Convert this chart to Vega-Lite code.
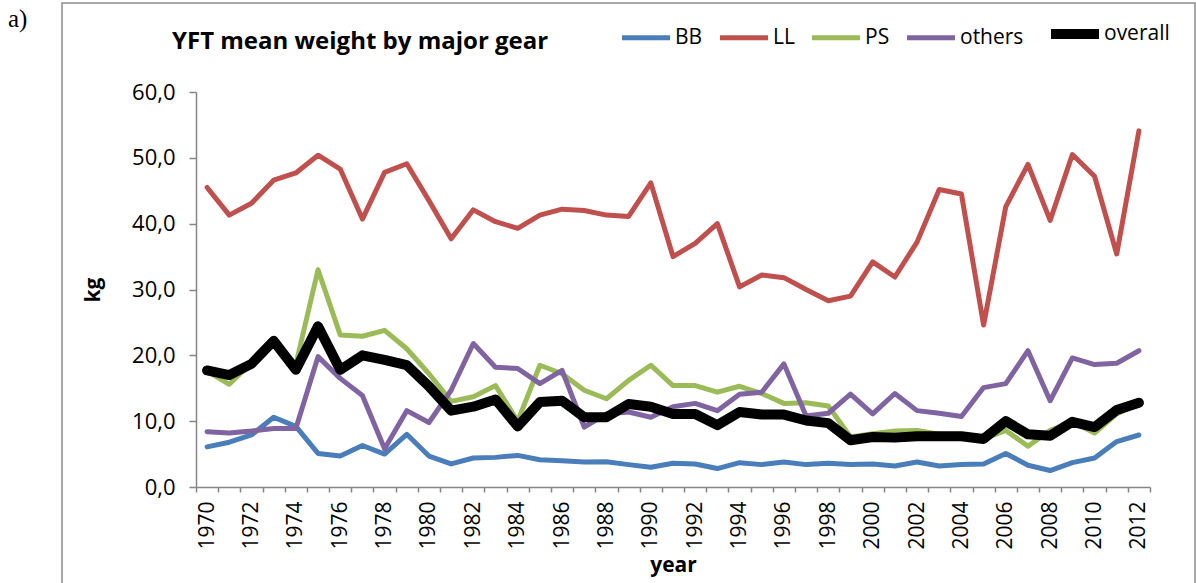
{
  "$schema": "https://vega.github.io/schema/vega-lite/v6.json",
  "width": 1133,
  "height": 582,
  "autosize": {"type": "none"},
  "padding": {"left": 62, "top": 3, "right": 1, "bottom": 0},
  "background": "white",
  "config": {
    "view": {"stroke": "#8c8c8c", "strokeWidth": 1.5},
    "font": "Open Sans",
    "legend": {
      "orient": "none",
      "legendX": 110,
      "legendY": 2,
      "direction": "horizontal",
      "columns": 5,
      "titleOrient": "left",
      "titleAngle": 0,
      "titleFont": "Open Sans",
      "titleFontSize": 24,
      "titleFontWeight": "bold",
      "titleColor": "black",
      "titlePadding": 68,
      "titleLimit": 700,
      "titleBaseline": "top",
      "titleAnchor": "middle",
      "labelFont": "Open Sans",
      "labelFontSize": 21,
      "labelColor": "black",
      "labelOffset": 0,
      "labelLimit": 300,
      "columnPadding": 7,
      "symbolType": "stroke",
      "symbolSize": 2304,
      "padding": 0
    }
  },
  "title": {
    "text": "a)",
    "anchor": "start",
    "frame": "group",
    "dx": -54,
    "offset": -49,
    "font": "Liberation Serif",
    "fontSize": 25,
    "fontWeight": "normal",
    "color": "black",
    "baseline": "alphabetic"
  },
  "data": {
    "values": [
      {"year": 1970, "BB": 6.1, "LL": 45.5, "PS": 17.6, "others": 8.4, "overall": 17.7},
      {"year": 1971, "BB": 6.8, "LL": 41.3, "PS": 15.6, "others": 8.2, "overall": 17.0},
      {"year": 1972, "BB": 7.9, "LL": 43.1, "PS": 18.9, "others": 8.5, "overall": 18.7},
      {"year": 1973, "BB": 10.6, "LL": 46.6, "PS": 22.2, "others": 8.9, "overall": 22.2},
      {"year": 1974, "BB": 9.2, "LL": 47.7, "PS": 18.6, "others": 8.9, "overall": 17.8},
      {"year": 1975, "BB": 5.1, "LL": 50.4, "PS": 33.0, "others": 19.8, "overall": 24.4},
      {"year": 1976, "BB": 4.7, "LL": 48.3, "PS": 23.1, "others": 16.5, "overall": 17.8},
      {"year": 1977, "BB": 6.3, "LL": 40.7, "PS": 22.9, "others": 13.9, "overall": 20.0},
      {"year": 1978, "BB": 5.0, "LL": 47.8, "PS": 23.8, "others": 5.8, "overall": 19.3},
      {"year": 1979, "BB": 8.0, "LL": 49.1, "PS": 21.0, "others": 11.6, "overall": 18.5},
      {"year": 1980, "BB": 4.7, "LL": 43.5, "PS": 17.2, "others": 9.8, "overall": 15.3},
      {"year": 1981, "BB": 3.5, "LL": 37.7, "PS": 13.0, "others": 14.7, "overall": 11.6},
      {"year": 1982, "BB": 4.4, "LL": 42.1, "PS": 13.7, "others": 21.8, "overall": 12.2},
      {"year": 1983, "BB": 4.5, "LL": 40.3, "PS": 15.4, "others": 18.2, "overall": 13.3},
      {"year": 1984, "BB": 4.8, "LL": 39.3, "PS": 10.0, "others": 18.0, "overall": 9.2},
      {"year": 1985, "BB": 4.15, "LL": 41.3, "PS": 18.5, "others": 15.7, "overall": 12.9},
      {"year": 1986, "BB": 4.0, "LL": 42.2, "PS": 17.2, "others": 17.7, "overall": 13.1},
      {"year": 1987, "BB": 3.8, "LL": 42.0, "PS": 14.7, "others": 9.1, "overall": 10.6},
      {"year": 1988, "BB": 3.85, "LL": 41.3, "PS": 13.4, "others": 11.1, "overall": 10.6},
      {"year": 1989, "BB": 3.4, "LL": 41.1, "PS": 16.2, "others": 11.4, "overall": 12.6},
      {"year": 1990, "BB": 3.0, "LL": 46.2, "PS": 18.5, "others": 10.6, "overall": 12.2},
      {"year": 1991, "BB": 3.6, "LL": 35.0, "PS": 15.4, "others": 12.2, "overall": 11.1},
      {"year": 1992, "BB": 3.5, "LL": 37.0, "PS": 15.4, "others": 12.7, "overall": 11.1},
      {"year": 1993, "BB": 2.8, "LL": 40.0, "PS": 14.4, "others": 11.6, "overall": 9.4},
      {"year": 1994, "BB": 3.7, "LL": 30.4, "PS": 15.3, "others": 14.1, "overall": 11.4},
      {"year": 1995, "BB": 3.4, "LL": 32.2, "PS": 14.2, "others": 14.4, "overall": 11.0},
      {"year": 1996, "BB": 3.8, "LL": 31.8, "PS": 12.7, "others": 18.7, "overall": 11.0},
      {"year": 1997, "BB": 3.4, "LL": 30.0, "PS": 12.8, "others": 10.8, "overall": 10.1},
      {"year": 1998, "BB": 3.6, "LL": 28.3, "PS": 12.3, "others": 11.2, "overall": 9.7},
      {"year": 1999, "BB": 3.4, "LL": 29.0, "PS": 7.6, "others": 14.1, "overall": 7.1},
      {"year": 2000, "BB": 3.5, "LL": 34.2, "PS": 8.1, "others": 11.1, "overall": 7.6},
      {"year": 2001, "BB": 3.2, "LL": 31.9, "PS": 8.5, "others": 14.2, "overall": 7.5},
      {"year": 2002, "BB": 3.8, "LL": 37.2, "PS": 8.6, "others": 11.6, "overall": 7.7},
      {"year": 2003, "BB": 3.2, "LL": 45.2, "PS": 8.0, "others": 11.2, "overall": 7.7},
      {"year": 2004, "BB": 3.4, "LL": 44.5, "PS": 8.0, "others": 10.7, "overall": 7.7},
      {"year": 2005, "BB": 3.5, "LL": 24.6, "PS": 7.3, "others": 15.1, "overall": 7.3},
      {"year": 2006, "BB": 5.1, "LL": 42.6, "PS": 8.6, "others": 15.7, "overall": 10.0},
      {"year": 2007, "BB": 3.3, "LL": 49.0, "PS": 6.2, "others": 20.7, "overall": 8.0},
      {"year": 2008, "BB": 2.5, "LL": 40.5, "PS": 8.6, "others": 13.1, "overall": 7.8},
      {"year": 2009, "BB": 3.7, "LL": 50.5, "PS": 9.9, "others": 19.6, "overall": 9.9},
      {"year": 2010, "BB": 4.4, "LL": 47.2, "PS": 8.2, "others": 18.6, "overall": 9.1},
      {"year": 2011, "BB": 6.9, "LL": 35.4, "PS": 11.1, "others": 18.8, "overall": 11.7},
      {"year": 2012, "BB": 7.9, "LL": 54.1, "PS": 12.7, "others": 20.7, "overall": 12.8}
    ]
  },
  "transform": [
    {"fold": ["BB", "LL", "PS", "others", "overall"], "as": ["gear", "kg"]}
  ],
  "mark": {"type": "line", "strokeCap": "round", "strokeJoin": "round"},
  "encoding": {
    "x": {
      "field": "year",
      "type": "ordinal",
      "bandPosition": 0.5,
      "scale": {"type": "band", "range": [134, 1088], "paddingInner": 0, "paddingOuter": 0},
      "axis": {
        "orient": "bottom",
        "offset": -98,
        "tickBand": "extent",
        "labelAngle": 270,
        "labelExpr": "datum.value % 2 == 0 ? datum.label : ''",
        "labelOverlap": false,
        "labelFont": "Open Sans",
        "labelFontSize": 21,
        "labelColor": "black",
        "labelPadding": 9,
        "tickSize": 5,
        "tickWidth": 1.5,
        "tickColor": "#868686",
        "domainColor": "#868686",
        "domainWidth": 1.5,
        "grid": false,
        "title": "year",
        "titleFont": "Open Sans",
        "titleFontSize": 21,
        "titleFontWeight": "bold",
        "titleColor": "black",
        "titlePadding": 5
      }
    },
    "y": {
      "field": "kg",
      "type": "quantitative",
      "scale": {"domain": [0, 60], "range": [484, 89], "nice": false},
      "axis": {
        "orient": "left",
        "offset": -134,
        "values": [0, 10, 20, 30, 40, 50, 60],
        "labelExpr": "replace(format(datum.value, '.1f'), '.', ',')",
        "labelFont": "Open Sans",
        "labelFontSize": 22,
        "labelColor": "black",
        "labelPadding": 14,
        "tickSize": 7,
        "tickWidth": 1.5,
        "tickColor": "#868686",
        "domainColor": "#868686",
        "domainWidth": 1.5,
        "grid": false,
        "title": "kg",
        "titleFont": "Open Sans",
        "titleFontSize": 21,
        "titleFontWeight": "bold",
        "titleColor": "black",
        "titlePadding": 28
      }
    },
    "color": {
      "field": "gear",
      "type": "nominal",
      "title": "YFT mean weight by major gear",
      "scale": {
        "domain": ["BB", "LL", "PS", "others", "overall"],
        "range": ["#4a7ebb", "#c0504d", "#9bbb59", "#8064a2", "#000000"]
      }
    },
    "strokeWidth": {
      "field": "gear",
      "type": "nominal",
      "title": "YFT mean weight by major gear",
      "scale": {
        "type": "ordinal",
        "domain": ["BB", "LL", "PS", "others", "overall"],
        "range": [5, 5, 5, 5, 10]
      }
    }
  }
}
